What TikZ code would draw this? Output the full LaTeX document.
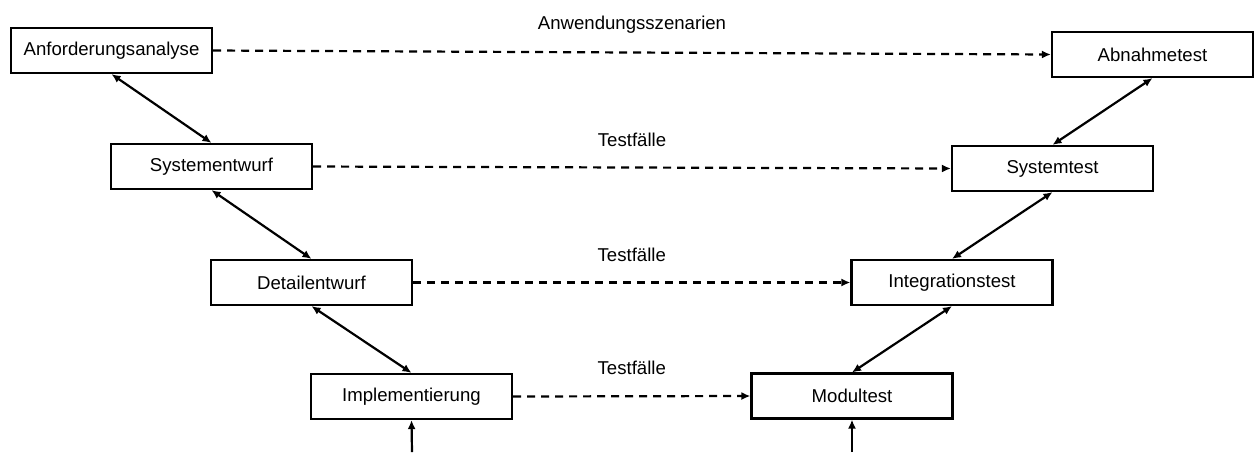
\documentclass[tikz,border=0pt]{standalone}
\usepackage{fontspec}
\setmainfont{Liberation Sans}
\usetikzlibrary{arrows.meta}

\begin{document}
\begin{tikzpicture}[x=0.5pt,y=-0.5pt,
    phase/.style={draw, line width=1.1pt, minimum width=100.5pt, minimum height=22.5pt,
        inner sep=0pt, font=\fontsize{9.3}{11}\selectfont},
    link/.style={line width=1.1pt, {Latex[length=4.5pt,width=4pt]}-{Latex[length=4.5pt,width=4pt]}},
    trace/.style={line width=1.1pt, dash pattern=on 4pt off 3pt, -{Latex[length=4.5pt,width=4pt]}},
    feed/.style={line width=1.1pt, -{Latex[length=4.5pt,width=4pt]}},
    tag/.style={midway, yshift=14pt, font=\fontsize{9.3}{11}\selectfont},
]
    \useasboundingbox (0,0) rectangle (1254,452);

    % left and right branch of the V
    \foreach \name/\txt/\x/\y in {
        anf/Anforderungsanalyse/111.5/50.5,
        sys/Systementwurf/211.5/166.5,
        det/Detailentwurf/311.5/282.5,
        imp/Implementierung/411.5/396.5,
        abn/Abnahmetest/1152.5/54.5,
        syt/Systemtest/1052.5/168.5,
        int/Integrationstest/952/282.5,
        mod/Modultest/852/396}
    {
        \node[phase] (\name) at (\x,\y) {\txt};
    }

    \draw[link] (anf.south) -- (sys.north);
    \draw[link] (sys.south) -- (det.north);
    \draw[link] (det.south) -- (imp.north);
    \draw[link] (abn.south) -- (syt.north);
    \draw[link] (syt.south) -- (int.north);
    \draw[link] (int.south) -- (mod.north);

    \draw[trace] (anf.east) -- node[tag] {Anwendungsszenarien} (abn.west);
    \draw[trace] (sys.east) -- node[tag] {Testfälle} (syt.west);
    \draw[trace] (det.east) -- node[tag] {Testfälle} (int.west);
    \draw[trace] (imp.east) -- node[tag] {Testfälle} (mod.west);

    % inputs from below the picture
    \coordinate (impin) at (412,452);
    \coordinate (modin) at (852,452);
    \draw[feed] (impin) -- (imp.south);
    \draw[feed] (modin) -- (mod.south);
\end{tikzpicture}
\end{document}
